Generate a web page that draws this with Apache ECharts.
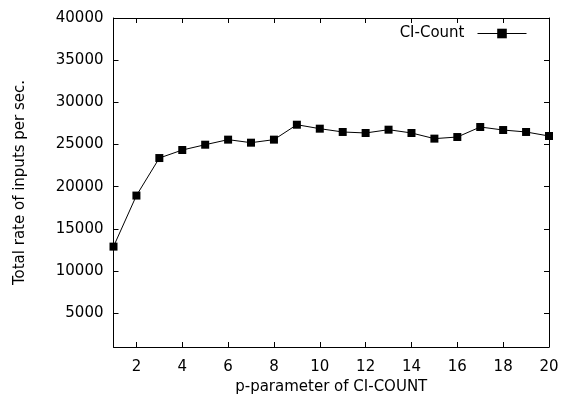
<!DOCTYPE html>
<html>
<head>
<meta charset="utf-8">
<script src="https://cdn.jsdelivr.net/npm/echarts@6/dist/echarts.min.js"></script>
<style>
  html, body { margin: 0; padding: 0; background: #fff; }
  #chart { width: 563px; height: 403px; }
</style>
</head>
<body>
<div id="chart"></div>
<script>
// p-parameter values and measured rate
const pValues = [1, 2, 3, 4, 5, 6, 7, 8, 9, 10, 11, 12, 13, 14, 15, 16, 17, 18, 19, 20]
const rates = [12900, 18950, 23400, 24350, 24980, 25580, 25220, 25580, 27350, 26880,
  26490, 26370, 26760, 26370, 25700, 25890, 27080, 26720, 26490, 26010]

const font = 'DejaVu Sans, sans-serif'
const fontSize = 15

const chart = echarts.init(document.getElementById('chart'))

// 公共坐标轴样式：黑色轴线，刻度朝内
const axisCommon = {
  axisLine: { show: true, lineStyle: { color: '#000', width: 1 } },
  axisTick: { show: true, inside: true, length: 5, lineStyle: { color: '#000' } },
  splitLine: { show: false },
}

const xRange = { type: 'value', min: 1, max: 20, splitNumber: 10 }
const yRange = { type: 'value', min: 1000, max: 40000, splitNumber: 8 }

const labelStyle = { fontSize: fontSize, color: '#000', fontFamily: font }

chart.setOption({
  animation: false,
  textStyle: { fontFamily: font },
  grid: { left: 113.5, right: 14, top: 18, bottom: 56 },
  legend: {
    right: 36,
    top: 24,
    align: 'right',
    itemWidth: 49,
    itemHeight: 12,
    itemGap: 0,
    backgroundColor: '#fff',
    padding: [2, 0, 2, 4],
    lineStyle: { width: 1 },
    textStyle: { ...labelStyle, padding: [0, 8, 0, 0] },
    data: ['CI-Count'],
  },
  xAxis: [
    {
      ...xRange,
      ...axisCommon,
      position: 'bottom',
      name: 'p-parameter of CI-COUNT',
      nameLocation: 'middle',
      nameGap: 33,
      nameTextStyle: labelStyle,
      axisLabel: { ...labelStyle, showMinLabel: false, margin: 13 },
    },
    {
      ...xRange,
      ...axisCommon,
      position: 'top',
      axisLabel: { show: false },
    },
  ],
  yAxis: [
    {
      ...yRange,
      ...axisCommon,
      position: 'left',
      name: 'Total rate of inputs per sec.',
      nameLocation: 'middle',
      nameGap: 86,
      nameTextStyle: labelStyle,
      axisLabel: { ...labelStyle, showMinLabel: false, margin: 10, formatter: (v) => String(v) },
    },
    {
      ...yRange,
      ...axisCommon,
      position: 'right',
      axisLabel: { show: false },
    },
  ],
  series: [
    {
      name: 'CI-Count',
      type: 'line',
      data: pValues.map((p, i) => [p, rates[i]]),
      symbol: 'rect',
      symbolSize: 8,
      showAllSymbol: true,
      clip: false,
      lineStyle: { color: '#000', width: 1 },
      itemStyle: { color: '#000' },
      z: 5,
    },
  ],
})
</script>
</body>
</html>
